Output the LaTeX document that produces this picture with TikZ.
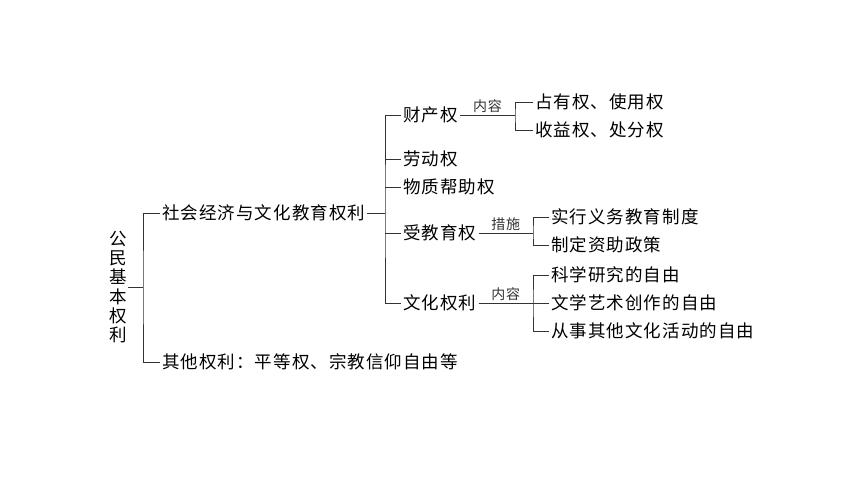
\documentclass[tikz,border=0pt]{standalone}
\usepackage{fontspec}
\setmainfont{Noto Sans CJK SC}[LetterSpace=6]
\usetikzlibrary{positioning, calc}
\tikzstyle{item} = [anchor=west, inner xsep=2pt, inner ysep=1pt, font=\fontsize{17.5}{19}\selectfont]
\tikzstyle{link} = [line width=0.7pt, black!80]

\begin{document}
\begin{tikzpicture}[x=1pt, y=-1pt,
    tag/.style={font=\fontsize{14}{16}\selectfont, inner sep=1pt, midway, above=1pt},
    root/.style={align=center, inner sep=1pt, font=\fontsize{17.5}{19.2}\selectfont}
  ]
    \useasboundingbox (0,0) rectangle (860,481);

    % Root and first level
    \node[root] (R) at (118,287) {公\\民\\基\\本\\权\\利};
    \coordinate (J1) at (143,287);
    \node[item] (Soc) at (160,213) {社会经济与文化教育权利};
    \node[item] (Oth) at (160,362) {其他权利：平等权、宗教信仰自由等};

    % Second level
    \coordinate (J2) at (385,213);
    \node[item] (Prop) at (401,115) {财产权};
    \node[item] (Lab)  at (401,159) {劳动权};
    \node[item] (Aid)  at (401,187) {物质帮助权};
    \node[item] (Edu)  at (401,233) {受教育权};
    \node[item] (Cult) at (401,303) {文化权利};

    % Third level
    \coordinate (J3) at (515,115);
    \node[item] (Own)  at (533,102) {占有权、使用权};
    \node[item] (Gain) at (533,130) {收益权、处分权};
    \coordinate (J4) at (533,233);
    \node[item] (Comp) at (549,217) {实行义务教育制度};
    \node[item] (Fund) at (549,245) {制定资助政策};
    \coordinate (J5) at (533,303);
    \node[item] (Sci)  at (549,275) {科学研究的自由};
    \node[item] (Art)  at (549,303) {文学艺术创作的自由};
    \node[item] (Free) at (549,331) {从事其他文化活动的自由};

    % Connectors
    \draw[link] (R.east) -- (J1);
    \draw[link] (Soc.west) -| (J1) |- (Oth.west);
    \draw[link] (Soc.east) -- (J2);
    \draw[link] (Prop.west) -| (J2) |- (Cult.west);
    \foreach \n in {Lab, Aid, Edu}
      \draw[link] (\n.west) -- (\n.west -| J2);

    \draw[link] (Prop.east) -- (J3) node[tag] {内容};
    \draw[link] (Own.west) -| (J3) |- (Gain.west);
    \draw[link] (Edu.east) -- (J4) node[tag] {措施};
    \draw[link] (Comp.west) -| (J4) |- (Fund.west);
    \draw[link] (Cult.east) -- (J5) node[tag] {内容};
    \draw[link] (Sci.west) -| (J5) |- (Free.west);
    \draw[link] (Art.west) -- (Art.west -| J5);
  \end{tikzpicture}
\end{document}
